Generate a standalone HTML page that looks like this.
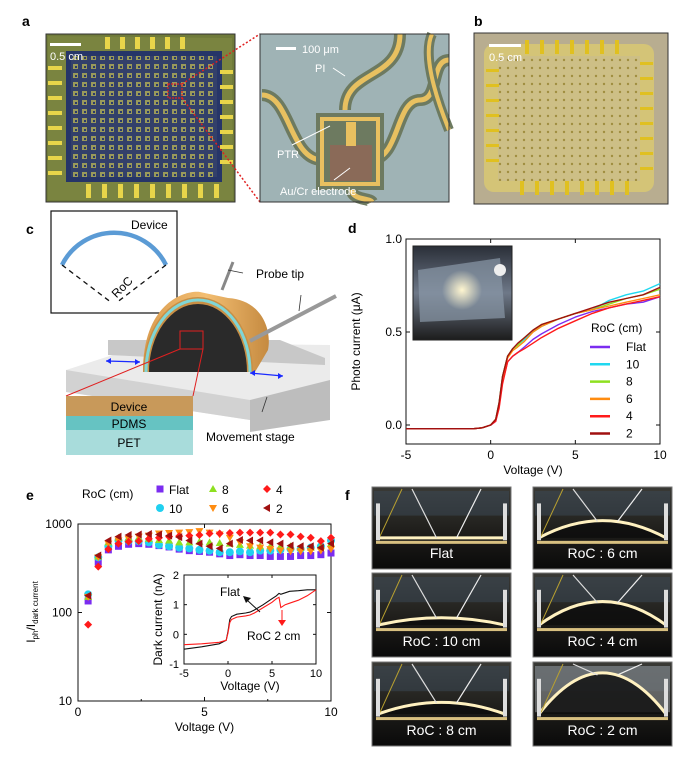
<!DOCTYPE html>
<html><head><meta charset="utf-8">
<style>
html,body{margin:0;padding:0;background:#fff;}
svg{display:block;font-family:"Liberation Sans",Arial,sans-serif;}
</style></head>
<body>
<svg id="fig" width="700" height="762" viewBox="0 0 700 762" xmlns="http://www.w3.org/2000/svg">
<defs>
  <pattern id="grid" width="9" height="9" patternUnits="userSpaceOnUse">
    <rect width="9" height="9" fill="#33406a"/>
    <rect x="1" y="1" width="5" height="5" fill="#9a9a5a"/>
    <rect x="3" y="3" width="2" height="2" fill="#2a3a6a"/>
  </pattern>
  <pattern id="dots" width="8" height="8" patternUnits="userSpaceOnUse">
    <rect width="8" height="8" fill="#cdbf86"/>
    <circle cx="4" cy="4" r="1.2" fill="#a08e40"/>
  </pattern>
  <linearGradient id="photoD" x1="0" y1="0" x2="0" y2="1">
    <stop offset="0" stop-color="#2a2f38"/><stop offset="0.5" stop-color="#6e7888"/><stop offset="1" stop-color="#1c1c1c"/>
  </linearGradient>
  <radialGradient id="glow" cx="0.5" cy="0.5" r="0.5">
    <stop offset="0" stop-color="#fff6d0"/><stop offset="1" stop-color="#fff6d0" stop-opacity="0"/>
  </radialGradient>
  <linearGradient id="arch" x1="0" y1="0" x2="1" y2="0">
    <stop offset="0" stop-color="#d99c50"/><stop offset="0.5" stop-color="#f3be72"/><stop offset="1" stop-color="#c58a40"/>
  </linearGradient>
  <linearGradient id="fbg" x1="0" y1="0" x2="0" y2="1">
    <stop offset="0" stop-color="#3a3a36"/><stop offset="0.6" stop-color="#1c1b18"/><stop offset="1" stop-color="#0a0a0a"/>
  </linearGradient>
</defs>

<!-- Panel a -->
<g>
  <text x="22" y="26" font-size="14" font-weight="bold">a</text>
  <g>
    <rect x="46" y="34" width="189" height="168" fill="#6f7a3a"/>
    <polygon points="48,36 232,38 233,200 48,200" fill="#7a8440"/>
    <rect x="66" y="51" width="156" height="131" fill="#263568"/>
    <rect x="71" y="56" width="146" height="121" fill="url(#grid)"/>
    <g fill="#e8d54a">
      <rect x="105" y="37" width="5" height="12"/><rect x="120" y="37" width="5" height="12"/><rect x="135" y="37" width="5" height="12"/><rect x="150" y="37" width="5" height="12"/><rect x="165" y="37" width="5" height="12"/><rect x="180" y="37" width="5" height="12"/>
      <rect x="86" y="184" width="5" height="14"/><rect x="102" y="184" width="5" height="14"/><rect x="118" y="184" width="5" height="14"/><rect x="134" y="184" width="5" height="14"/><rect x="150" y="184" width="5" height="14"/><rect x="166" y="184" width="5" height="14"/><rect x="182" y="184" width="5" height="14"/><rect x="198" y="184" width="5" height="14"/><rect x="214" y="184" width="5" height="14"/>
      <rect x="48" y="66" width="14" height="4"/><rect x="48" y="81" width="14" height="4"/><rect x="48" y="96" width="14" height="4"/><rect x="48" y="111" width="14" height="4"/><rect x="48" y="126" width="14" height="4"/><rect x="48" y="141" width="14" height="4"/><rect x="48" y="156" width="14" height="4"/><rect x="48" y="171" width="14" height="4"/>
      <rect x="220" y="70" width="13" height="4"/><rect x="220" y="85" width="13" height="4"/><rect x="220" y="100" width="13" height="4"/><rect x="220" y="115" width="13" height="4"/><rect x="220" y="130" width="13" height="4"/><rect x="220" y="145" width="13" height="4"/><rect x="220" y="160" width="13" height="4"/>
    </g>
    <rect x="46" y="34" width="189" height="168" fill="none" stroke="#333" stroke-width="1"/>
    <rect x="50" y="43" width="31" height="3" fill="#fff"/>
    <text x="50" y="60" font-size="11" fill="#fff">0.5 cm</text>
    <rect x="168" y="84" width="14" height="14" fill="none" stroke="#e02020" stroke-width="1.2" stroke-dasharray="2,1"/>
  </g>
  <line x1="182" y1="84" x2="260" y2="34" stroke="#e02020" stroke-width="1.5" stroke-dasharray="2,2"/>
  <line x1="182" y1="98" x2="260" y2="202" stroke="#e02020" stroke-width="1.5" stroke-dasharray="2,2"/>
  <g>
    <rect x="260" y="34" width="189" height="168" fill="#9fb3b5"/>
    <path d="M262,95 C290,95 290,160 322,160 L330,160" fill="none" stroke="#6d7a60" stroke-width="12"/>
    <path d="M262,95 C290,95 290,160 322,160 L330,160" fill="none" stroke="#e8c060" stroke-width="5"/>
    <path d="M345,110 C345,70 400,80 400,34" fill="none" stroke="#6d7a60" stroke-width="12"/>
    <path d="M345,110 C345,70 400,80 400,34" fill="none" stroke="#e8c060" stroke-width="5"/>
    <path d="M370,160 C400,160 395,100 420,100 C440,100 430,60 449,60" fill="none" stroke="#6d7a60" stroke-width="12"/>
    <path d="M370,160 C400,160 395,100 420,100 C440,100 430,60 449,60" fill="none" stroke="#e8c060" stroke-width="5"/>
    <path d="M352,190 C352,200 370,198 372,202" fill="none" stroke="#6d7a60" stroke-width="12"/>
    <path d="M352,190 C352,200 370,198 372,202" fill="none" stroke="#e8c060" stroke-width="5"/>
    <path d="M432,34 C420,60 445,120 449,130" fill="none" stroke="#6d7a60" stroke-width="10"/>
    <path d="M432,34 C420,60 445,120 449,130" fill="none" stroke="#e8c060" stroke-width="4"/>
    <rect x="316" y="113" width="68" height="77" fill="#6d7a60"/>
    <rect x="320" y="117" width="60" height="69" fill="#e8c060"/>
    <rect x="324" y="121" width="52" height="61" fill="#6d7a60"/>
    <rect x="330" y="145" width="42" height="36" fill="#8a6a58"/>
    <rect x="346" y="122" width="10" height="24" fill="#e8c060"/>
    <rect x="260" y="34" width="189" height="168" fill="none" stroke="#333" stroke-width="1"/>
    <rect x="276" y="47" width="20" height="3" fill="#fff"/>
    <text x="302" y="53" font-size="11" fill="#fff">100 μm</text>
    <text x="315" y="72" font-size="11" fill="#fff">PI</text>
    <line x1="345" y1="76" x2="333" y2="68" stroke="#fff" stroke-width="1"/>
    <text x="277" y="158" font-size="11" fill="#fff">PTR</text>
    <line x1="292" y1="145" x2="330" y2="126" stroke="#fff" stroke-width="1"/>
    <text x="280" y="195" font-size="11" fill="#fff">Au/Cr electrode</text>
    <line x1="334" y1="180" x2="350" y2="168" stroke="#fff" stroke-width="1"/>
  </g>
</g>

<!-- Panel b -->
<g>
  <text x="474" y="26" font-size="14" font-weight="bold">b</text>
  <rect x="474" y="33" width="194" height="171" fill="#b8ad90"/>
  <rect x="484" y="44" width="170" height="148" rx="10" fill="#d4c477"/>
  <rect x="498" y="56" width="142" height="125" fill="url(#dots)"/>
  <g fill="#e0c020">
    <rect x="525" y="40" width="4" height="14"/><rect x="540" y="40" width="4" height="14"/><rect x="555" y="40" width="4" height="14"/><rect x="570" y="40" width="4" height="14"/><rect x="585" y="40" width="4" height="14"/><rect x="600" y="40" width="4" height="14"/><rect x="615" y="40" width="4" height="14"/>
    <rect x="520" y="181" width="4" height="14"/><rect x="535" y="181" width="4" height="14"/><rect x="550" y="181" width="4" height="14"/><rect x="565" y="181" width="4" height="14"/><rect x="580" y="181" width="4" height="14"/><rect x="595" y="181" width="4" height="14"/><rect x="610" y="181" width="4" height="14"/><rect x="625" y="181" width="4" height="14"/>
    <rect x="486" y="69" width="13" height="3"/><rect x="486" y="84" width="13" height="3"/><rect x="486" y="99" width="13" height="3"/><rect x="486" y="114" width="13" height="3"/><rect x="486" y="129" width="13" height="3"/><rect x="486" y="144" width="13" height="3"/><rect x="486" y="159" width="13" height="3"/>
    <rect x="640" y="62" width="13" height="3"/><rect x="640" y="77" width="13" height="3"/><rect x="640" y="92" width="13" height="3"/><rect x="640" y="107" width="13" height="3"/><rect x="640" y="122" width="13" height="3"/><rect x="640" y="137" width="13" height="3"/><rect x="640" y="152" width="13" height="3"/><rect x="640" y="167" width="13" height="3"/>
  </g>
  <rect x="474" y="33" width="194" height="171" fill="none" stroke="#333" stroke-width="1"/>
  <rect x="489" y="44" width="32" height="3" fill="#fff"/>
  <text x="489" y="61" font-size="11" fill="#fff">0.5 cm</text>
</g>

<!-- Panel c -->
<g>
  <text x="26" y="234" font-size="14" font-weight="bold">c</text>
  <rect x="51" y="211" width="126" height="102" fill="#fff" stroke="#111" stroke-width="1.2"/>
  <path d="M62,265 A58,58 0 0 1 166,265" fill="none" stroke="#5b9bd5" stroke-width="4.5"/>
  <line x1="62" y1="265" x2="112" y2="303" stroke="#111" stroke-width="1.3" stroke-dasharray="5,4"/>
  <line x1="166" y1="265" x2="116" y2="303" stroke="#111" stroke-width="1.3" stroke-dasharray="5,4"/>
  <text x="131" y="229" font-size="12">Device</text>
  <text x="125" y="290" font-size="12" transform="rotate(-45 125 290)" text-anchor="middle">RoC</text>
  <!-- stage -->
  <g>
    <polygon points="66,370 150,343 330,345 330,405 250,420 66,392" fill="#ebebeb"/>
    <polygon points="66,370 66,392 250,420 250,400" fill="#d2d2d2"/>
    <polygon points="250,400 330,380 330,420 250,432" fill="#bdbdbd"/>
    <polygon points="108,340 280,340 325,358 325,365 108,355" fill="#c8c8c8"/>
  </g>
  <g>
    <path d="M143,372 C143,300 188,290 200,292 L228,298 C262,300 272,330 268,350 L255,372 Z" fill="url(#arch)"/>
    <path d="M143,372 A55,75 0 0 1 253,372 Z" fill="#c98f45"/>
    <path d="M149,372 A49,68 0 0 1 247,372 Z" fill="#2a2a2a"/>
    <path d="M146,372 A52,72 0 0 1 250,372" fill="none" stroke="#7fd6d6" stroke-width="3"/>
  </g>
  <line x1="222" y1="290" x2="233" y2="262" stroke="#888" stroke-width="3"/>
  <line x1="250" y1="341" x2="336" y2="296" stroke="#999" stroke-width="4"/>
  <line x1="106" y1="361" x2="140" y2="362" stroke="#1a2aff" stroke-width="1.3"/>
  <line x1="250" y1="373" x2="283" y2="376" stroke="#1a2aff" stroke-width="1.3"/>
  <polygon points="106,361 111,358 111,364" fill="#1a2aff"/><polygon points="140,362 135,359 135,365" fill="#1a2aff"/>
  <polygon points="250,373 255,370 255,376" fill="#1a2aff"/><polygon points="283,376 278,373 278,379" fill="#1a2aff"/>
  <rect x="180" y="331" width="23" height="18" fill="none" stroke="#e02020" stroke-width="1"/>
  <line x1="180" y1="349" x2="66" y2="396" stroke="#e02020" stroke-width="1"/>
  <line x1="203" y1="349" x2="193" y2="396" stroke="#e02020" stroke-width="1"/>
  <line x1="243" y1="273" x2="228" y2="270" stroke="#333" stroke-width="0.8"/>
  <line x1="301" y1="295" x2="299" y2="311" stroke="#333" stroke-width="0.8"/>
  <line x1="262" y1="412" x2="267" y2="397" stroke="#333" stroke-width="0.8"/>
  <text x="256" y="278" font-size="12">Probe tip</text>
  <text x="206" y="441" font-size="12">Movement stage</text>
  <g>
    <rect x="66" y="396" width="127" height="20" fill="#c8995a"/>
    <rect x="66" y="416" width="127" height="14" fill="#66c3c2"/>
    <rect x="66" y="430" width="127" height="25" fill="#a8dcdb"/>
    <text x="129" y="411" font-size="12" text-anchor="middle">Device</text>
    <text x="129" y="428" font-size="12" text-anchor="middle">PDMS</text>
    <text x="129" y="447" font-size="12" text-anchor="middle">PET</text>
  </g>
</g>

<!-- Panel d -->
<g id="panelD">
  <text x="348" y="233" font-size="14" font-weight="bold">d</text>
  <g>
    <rect x="413" y="246" width="99" height="94" fill="url(#photoD)" stroke="#222"/>
    <polygon points="418,270 500,258 505,318 420,322" fill="#8a98a8" opacity="0.7"/>
    <circle cx="462" cy="290" r="20" fill="url(#glow)"/>
    <circle cx="500" cy="270" r="6" fill="#eee"/>
  </g>
</g>

<!-- Panel e -->
<g id="panelE">
  <text x="26" y="500" font-size="14" font-weight="bold">e</text>
  <text transform="translate(35,612) rotate(-90)" font-size="12" text-anchor="middle">I<tspan font-size="8" dy="3">ph</tspan><tspan dy="-3">/I</tspan><tspan font-size="8" dy="3">dark current</tspan></text>
</g>

<!-- Panel f -->
<g id="panelF">
  <text x="345" y="500" font-size="14" font-weight="bold">f</text>
</g>

<script>
// ===== Panel d data =====
const dVolt = [-5,-1,-0.5,0,0.3,0.5,0.7,1,1.3,1.6,2,2.5,3,4,5,6,7,8,9,10];
const dFlat = [-0.02,-0.02,-0.015,0,0.02,0.1,0.23,0.34,0.37,0.39,0.42,0.46,0.49,0.54,0.58,0.61,0.63,0.65,0.66,0.69];
const d10   = [-0.02,-0.02,-0.015,0,0.03,0.12,0.26,0.37,0.41,0.43,0.46,0.5,0.53,0.57,0.6,0.62,0.67,0.7,0.72,0.76];
const d8    = [-0.02,-0.02,-0.015,0,0.03,0.12,0.26,0.37,0.41,0.43,0.47,0.51,0.54,0.57,0.6,0.62,0.65,0.68,0.7,0.73];
const d6    = [-0.02,-0.02,-0.015,0,0.03,0.11,0.25,0.36,0.4,0.42,0.45,0.5,0.53,0.57,0.6,0.62,0.64,0.66,0.68,0.7];
const d4    = [-0.02,-0.02,-0.015,0,0.02,0.09,0.22,0.34,0.37,0.39,0.41,0.44,0.47,0.52,0.56,0.6,0.63,0.65,0.67,0.69];
const d2    = [-0.02,-0.02,-0.015,0,0.03,0.12,0.26,0.37,0.41,0.44,0.47,0.51,0.54,0.57,0.6,0.63,0.66,0.68,0.7,0.74];
const dNames = ["Flat","10","8","6","4","2"];
const dColors = ["#7b2cf0","#20d8f0","#8ee020","#ff8c10","#ff1a1a","#a01010"];
const dXTicks = [-5,0,5,10];
const dYTicks = [0.0,0.5,1.0];

// ===== Panel e data =====
const eVolt = [0.4,0.8,1.2,1.6,2.0,2.4,2.8,3.2,3.6,4.0,4.4,4.8,5.2,5.6,6.0,6.4,6.8,7.2,7.6,8.0,8.4,8.8,9.2,9.6,10.0];
const eFlat = [135,370,510,560,590,600,590,570,550,520,500,490,480,460,440,450,440,440,430,430,430,440,440,450,470];
const e10   = [160,420,560,650,640,640,620,580,560,540,530,510,500,480,480,490,480,500,500,510,520,520,540,560,650];
const e8    = [150,430,620,700,700,700,680,660,650,620,620,630,620,610,600,580,570,560,560,560,560,540,540,560,600];
const e6    = [150,420,600,650,680,720,740,780,790,800,810,830,800,760,700,620,560,540,520,500,490,490,490,500,520];
const e4    = [73,330,520,600,630,640,680,700,720,730,740,750,780,780,790,800,800,800,800,760,760,720,700,640,700];
const e2    = [155,440,650,720,750,760,770,760,740,710,650,600,560,530,600,660,650,650,620,600,570,560,560,540,600];
const eXTicks = [0,5,10];
const eYTicks = [10,100,1000];
const insVolt = [-5,-3,-1,-0.2,0,0.2,0.4,1,2,2.5,3,4,5,5.5,5.8,6,6.5,7,8,9,10];
const insFlat = [-0.5,-0.42,-0.32,-0.2,0.1,0.5,0.6,0.68,0.72,0.75,0.82,1.0,1.2,1.3,1.38,1.35,1.4,1.45,1.47,1.5,1.5];
const insRoC2 = [-0.35,-0.32,-0.27,-0.2,0.05,0.4,0.5,0.58,0.62,0.65,0.72,0.9,1.08,1.2,1.25,0.9,1.0,1.05,1.15,1.3,1.5];
const insXTicks = [-5,0,5,10];
const insYTicks = [-1,0,1,2];

// ===== Panel f data =====
const fLabels = ["Flat","RoC : 6 cm","RoC : 10 cm","RoC : 4 cm","RoC : 8 cm","RoC : 2 cm"];
const fBend = [0,0.6,0.25,0.8,0.4,1.4];

const NS = "http://www.w3.org/2000/svg";
function mk(tag, attrs, parent){ const e=document.createElementNS(NS,tag); for(const k in attrs) e.setAttribute(k,attrs[k]); parent.appendChild(e); return e; }
function txt(s, attrs, parent){ const e=mk("text",attrs,parent); e.textContent=s; return e; }

// ---------- Panel d ----------
(function(){
  const g = document.getElementById("panelD");
  const X0=406,X1=660,Y0=444,Y1=239;
  const xs = v => X0 + (v+5)/15*(X1-X0);
  const ys = v => 425 - v*(425-239);
  const frame = mk("rect",{x:X0,y:Y1,width:X1-X0,height:Y0-Y1,fill:"none",stroke:"#111","stroke-width":1},g);
  
  
  dXTicks.forEach(t=>{
    const x=xs(t);
    mk("line",{x1:x,y1:Y0,x2:x,y2:Y0-4,stroke:"#111"},g);
    mk("line",{x1:x,y1:Y1,x2:x,y2:Y1+4,stroke:"#111"},g);
    const l=txt(String(t),{x:x,y:Y0+15,"font-size":12,"text-anchor":"middle"},g);
    
    
  });
  dYTicks.forEach(t=>{
    const y=ys(t);
    mk("line",{x1:X0,y1:y,x2:X0+4,y2:y,stroke:"#111"},g);
    mk("line",{x1:X1,y1:y,x2:X1-4,y2:y,stroke:"#111"},g);
    const l=txt(t.toFixed(1),{x:X0-4,y:y+4,"font-size":12,"text-anchor":"end"},g);
    
    
  });
  const xt=txt("Voltage (V)",{x:(X0+X1)/2,y:Y0+30,"font-size":12,"text-anchor":"middle"},g);
  
  
  const yt=txt("Photo current (μA)",{x:0,y:0,"font-size":12,"text-anchor":"middle",transform:`translate(360,${(Y0+Y1)/2}) rotate(-90)`},g);
  
  
  const series=[dFlat,d10,d8,d6,d4,d2];
  series.forEach((s,i)=>{
    const pts=s.map((v,j)=>xs(dVolt[j]).toFixed(1)+","+ys(v).toFixed(1)).join(" ");
    const p=mk("polyline",{points:pts,fill:"none",stroke:dColors[i],"stroke-width":1.4,"stroke-linejoin":"round"},g);
    
    
  });
  const lt=txt("RoC (cm)",{x:591,y:332,"font-size":12},g);
  
  
  dNames.forEach((n,i)=>{
    const y=347+i*17.3;
    const ln=mk("line",{x1:590,y1:y,x2:610,y2:y,stroke:dColors[i],"stroke-width":2.5},g);
    
    
    const t=txt(n,{x:626,y:y+4,"font-size":12},g);
    
    
  });
})();

// ---------- Panel e ----------
(function(){
  const g=document.getElementById("panelE");
  const X0=78,X1=331,Ytop=524,Ybot=701;
  const xs=v=>X0+v/10*(X1-X0);
  const ys=v=>Ybot-(Math.log10(v)-1)/2*(Ybot-Ytop);
  const frame=mk("rect",{x:X0,y:Ytop,width:X1-X0,height:Ybot-Ytop,fill:"none",stroke:"#111","stroke-width":1},g);
  
  
  eXTicks.forEach(t=>{
    const x=xs(t);
    mk("line",{x1:x,y1:Ybot,x2:x,y2:Ybot-4,stroke:"#111"},g);
    mk("line",{x1:x,y1:Ytop,x2:x,y2:Ytop+4,stroke:"#111"},g);
    const l=txt(String(t),{x:x,y:Ybot+15,"font-size":12,"text-anchor":"middle"},g);
    
    
  });
  [2.5,7.5].forEach(t=>{mk("line",{x1:xs(t),y1:Ybot,x2:xs(t),y2:Ybot-2,stroke:"#111"},g);});
  eYTicks.forEach(t=>{
    const y=ys(t);
    mk("line",{x1:X0,y1:y,x2:X0+4,y2:y,stroke:"#111"},g);
    mk("line",{x1:X1,y1:y,x2:X1-4,y2:y,stroke:"#111"},g);
    const l=txt(String(t),{x:X0-6,y:y+4,"font-size":12,"text-anchor":"end"},g);
    
    
  });
  const xt=txt("Voltage (V)",{x:(X0+X1)/2,y:Ybot+30,"font-size":12,"text-anchor":"middle"},g);
  
  
  const cols=["#7b2cf0","#20d0f0","#8ee020","#ff8c10","#ff1a1a","#a01010"];
  const shapes=["sq","ci","tu","td","di","tl"];
  function marker(shape,x,y,c,parent){
    const s=4;
    if(shape==="sq") return mk("rect",{x:x-s+0.5,y:y-s+0.5,width:2*s-1,height:2*s-1,fill:c},parent);
    if(shape==="ci") return mk("circle",{cx:x,cy:y,r:s,fill:c},parent);
    if(shape==="tu") return mk("polygon",{points:`${x},${y-s} ${x+s},${y+s-1} ${x-s},${y+s-1}`,fill:c},parent);
    if(shape==="td") return mk("polygon",{points:`${x},${y+s} ${x+s},${y-s+1} ${x-s},${y-s+1}`,fill:c},parent);
    if(shape==="di") return mk("polygon",{points:`${x},${y-s} ${x+s},${y} ${x},${y+s} ${x-s},${y}`,fill:c},parent);
    return mk("polygon",{points:`${x-s},${y} ${x+s-1},${y-s} ${x+s-1},${y+s}`,fill:c},parent);
  }
  const series=[eFlat,e10,e8,e6,e4,e2];
  const names=["flat","10","8","6","4","2"];
  series.forEach((s,i)=>{
    s.forEach((v,j)=>{
      const m=marker(shapes[i],xs(eVolt[j]),ys(v),cols[i],g);
      
      
    });
  });
  const lt=txt("RoC (cm)",{x:82,y:498,"font-size":12},g);
  
  
  const lpos=[[160,489],[160,508],[213,489],[213,508],[267,489],[267,508]];
  const lab=["Flat","10","8","6","4","2"];
  lab.forEach((n,k)=>{
    const [x,y]=lpos[k];
    const m=marker(shapes[k],x,y,cols[k],g);
    
    
    const t=txt(n,{x:x+9,y:y+5,"font-size":12},g);
    
    
  });
  // inset
  const IX0=184,IX1=316,IY0=664,IY1=575;
  const ixs=v=>IX0+(v+5)/15*(IX1-IX0);
  const iys=v=>IY0-(v+1)/3*(IY0-IY1);
  const ib=mk("rect",{x:IX0,y:IY1,width:IX1-IX0,height:IY0-IY1,fill:"#fff",stroke:"#111","stroke-width":1},g);
  
  
  insXTicks.forEach(t=>{
    const x=ixs(t);
    mk("line",{x1:x,y1:IY0,x2:x,y2:IY0-3,stroke:"#111"},g);
    mk("line",{x1:x,y1:IY1,x2:x,y2:IY1+3,stroke:"#111"},g);
    const l=txt(String(t),{x:x,y:IY0+13,"font-size":11,"text-anchor":"middle"},g);
    
    
  });
  insYTicks.forEach(t=>{
    const y=iys(t);
    mk("line",{x1:IX0,y1:y,x2:IX0+3,y2:y,stroke:"#111"},g);
    mk("line",{x1:IX1,y1:y,x2:IX1-3,y2:y,stroke:"#111"},g);
    const l=txt(String(t),{x:IX0-5,y:y+4,"font-size":11,"text-anchor":"end"},g);
    
    
  });
  const ix=txt("Voltage (V)",{x:(IX0+IX1)/2,y:IY0+26,"font-size":12,"text-anchor":"middle"},g);
  
  
  const iy=txt("Dark current (nA)",{x:0,y:0,"font-size":12,"text-anchor":"middle",transform:`translate(162,${(IY0+IY1)/2}) rotate(-90)`},g);
  
  
  const pf=mk("polyline",{points:insFlat.map((v,j)=>ixs(insVolt[j]).toFixed(1)+","+iys(v).toFixed(1)).join(" "),fill:"none",stroke:"#111","stroke-width":1.1},g);
  
  
  const pr=mk("polyline",{points:insRoC2.map((v,j)=>ixs(insVolt[j]).toFixed(1)+","+iys(v).toFixed(1)).join(" "),fill:"none",stroke:"#ff1a1a","stroke-width":1.1},g);
  
  
  const fl=txt("Flat",{x:220,y:596,"font-size":12},g);
  
  
  mk("line",{x1:260,y1:612,x2:247,y2:600,stroke:"#111","stroke-width":1},g);
  mk("polygon",{points:"243,596 251,598 246,603",fill:"#111"},g);
  const rl=txt("RoC 2 cm",{x:247,y:640,"font-size":12},g);
  
  
  mk("line",{x1:282,y1:610,x2:282,y2:622,stroke:"#ff1a1a","stroke-width":1},g);
  mk("polygon",{points:"278,620 286,620 282,626",fill:"#ff1a1a"},g);
})();

// ---------- Panel f ----------
(function(){
  const g=document.getElementById("panelF");
  const cols=[372,533], rows=[487,573,662], W=139,H=[82,84,84];
  fLabels.forEach((lab,i)=>{
    const x=cols[i%2], r=Math.floor(i/2), y=rows[r], h=H[r];
    const grp=mk("g",{},g);
    
    
    mk("rect",{x:x,y:y,width:W,height:h,fill:"url(#fbg)",stroke:"#777","stroke-width":1},grp);
    mk("rect",{x:x+2,y:y+4,width:W-4,height:h*0.3,fill:"#3c4a58",opacity:0.5},grp);
    if(fBend[i]>1){ mk("rect",{x:x+2,y:y+4,width:W-4,height:h*0.55,fill:"#8a8e90",opacity:0.6},grp); }
    const base=y+h*0.62, peak=base-fBend[i]*h*0.35;
    mk("path",{d:`M${x+6},${base} Q${x+W/2},${2*peak-base} ${x+W-6},${base} Z`,fill:"#0c0c0c",opacity:0.8},grp);
    mk("path",{d:`M${x+6},${base} Q${x+W/2},${2*peak-base} ${x+W-6},${base}`,fill:"none",stroke:"#fff1c0","stroke-width":3},grp);
    mk("line",{x1:x+40,y1:y+2,x2:x+W/2-5,y2:peak+(base-peak)*0.05,stroke:"#ddd","stroke-width":1.2},grp);
    mk("line",{x1:x+W-30,y1:y+2,x2:x+W/2+15,y2:peak+(base-peak)*0.05,stroke:"#eee","stroke-width":1.2},grp);
    mk("line",{x1:x+8,y1:y+h*0.6,x2:x+30,y2:y+2,stroke:"#b8a030","stroke-width":1},grp);
    mk("rect",{x:x+4,y:y+h*0.2,width:4,height:h*0.45,fill:"#ddd"},grp);
    mk("rect",{x:x+W-8,y:y+h*0.2,width:4,height:h*0.45,fill:"#ddd"},grp);
    mk("rect",{x:x+4,y:base+3,width:W-8,height:3,fill:"#d8c080"},grp);
    const t=txt(lab,{x:x+W/2,y:y+h-11,"font-size":14,fill:"#fff","text-anchor":"middle"},grp);
    
    
  });
})();
</script>
</svg>
</body></html>
